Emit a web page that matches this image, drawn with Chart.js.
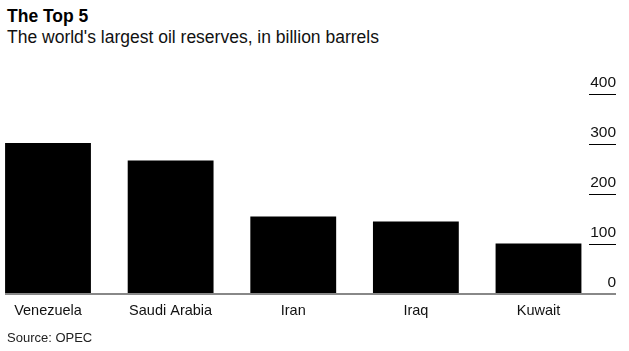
<!DOCTYPE html>
<html>
<head>
<meta charset="utf-8">
<script src="https://cdn.jsdelivr.net/npm/chart.js@4"></script>
<style>
  html, body { margin: 0; padding: 0; background: #fff; }
  #wrap { position: relative; width: 629px; height: 351px; font-family: "Liberation Sans", Arial, Helvetica, sans-serif; color: #000; }
  #wrap canvas { position: absolute; left: 0; top: 0; }
  .title { position: absolute; left: 7px; top: 6px; font-size: 17.5px; line-height: 20px; font-weight: bold; }
  .subtitle { position: absolute; left: 7px; top: 27px; font-size: 17.5px; line-height: 20px; color: #111; }
  .source { position: absolute; left: 7px; top: 330px; font-size: 13px; line-height: 16px; color: #222; }
</style>
</head>
<body>
<div id="wrap">
  <div class="title">The Top 5</div>
  <div class="subtitle">The world's largest oil reserves, in billion barrels</div>
  <canvas id="oilChart" width="629" height="351"></canvas>
  <div class="source">Source: OPEC</div>
</div>
<script>
// data
var countries = ['Venezuela', 'Saudi Arabia', 'Iran', 'Iraq', 'Kuwait'];
var reserves = [302, 267, 155, 145, 101];
var yTicks = [0, 100, 200, 300, 400];

var fontFamily = '"Liberation Sans", Arial, Helvetica, sans-serif';

// right hand tick labels with short dashes, plus the grey baseline
var axisPlugin = {
  id: 'bbgAxis',
  afterDatasetsDraw: function(chart) {
    var ctx = chart.ctx;
    var y = chart.scales.y;
    ctx.save();
    ctx.font = '15.5px ' + fontFamily;
    ctx.fillStyle = '#111';
    ctx.textAlign = 'right';
    ctx.textBaseline = 'alphabetic';
    yTicks.forEach(function(v) {
      var py = Math.round(y.getPixelForValue(v));
      if (v > 0) {
        ctx.strokeStyle = '#000';
        ctx.lineWidth = 1;
        ctx.beginPath();
        ctx.moveTo(589, py + 0.5);
        ctx.lineTo(616, py + 0.5);
        ctx.stroke();
      }
      ctx.fillText(String(v), 616, py - 7);
    });
    // baseline
    var p0 = y.getPixelForValue(0);
    ctx.strokeStyle = '#888';
    ctx.lineWidth = 2;
    ctx.beginPath();
    ctx.moveTo(5, p0);
    ctx.lineTo(616, p0);
    ctx.stroke();
    ctx.restore();
  }
};

var oilChart = new Chart(document.getElementById('oilChart').getContext('2d'), {
  type: 'bar',
  data: {
    labels: countries,
    datasets: [{
      data: reserves,
      backgroundColor: '#000',
      borderWidth: 0,
      categoryPercentage: 1,
      barPercentage: 0.7,
      clip: false
    }]
  },
  options: {
    responsive: false,
    animation: false,
    layout: { padding: { left: 48, right: 90.5, top: 94, bottom: 0 } },
    plugins: {
      legend: { display: false },
      tooltip: { enabled: false }
    },
    scales: {
      x: {
        offset: false,
        grid: { display: false, drawTicks: false },
        border: { display: false },
        ticks: {
          color: '#111',
          padding: 8,
          maxRotation: 0,
          font: { family: fontFamily, size: 14.5 }
        },
        afterFit: function(scale) { scale.height = 57; }
      },
      y: {
        display: false,
        min: 0,
        max: 400,
        ticks: { stepSize: 100 }
      }
    }
  },
  plugins: [axisPlugin]
});
</script>
</body>
</html>
